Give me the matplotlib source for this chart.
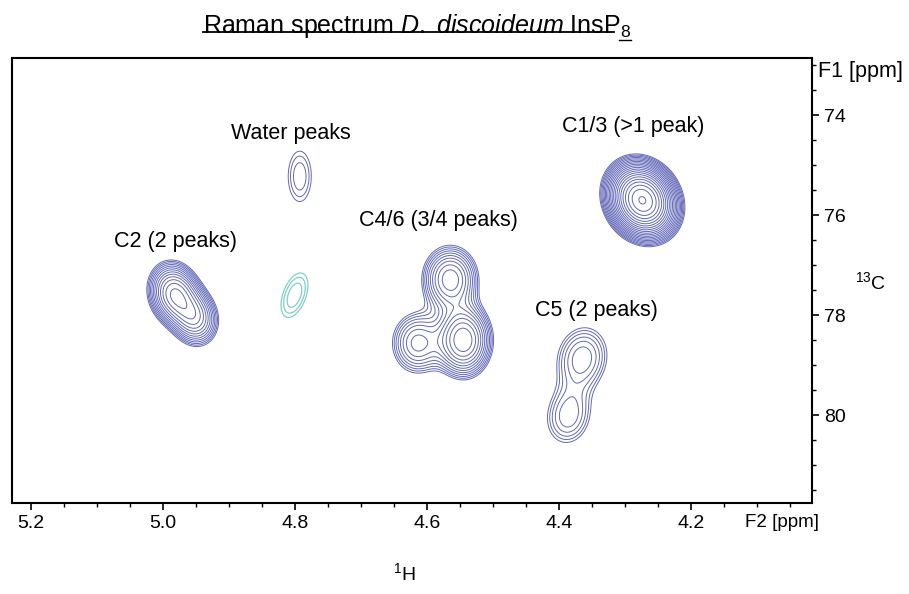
import numpy as np
import matplotlib
matplotlib.use("Agg")
import matplotlib.pyplot as plt
from matplotlib.ticker import MultipleLocator, FormatStrFormatter
from matplotlib.lines import Line2D

plt.rcParams['font.family'] = ['Liberation Sans', 'DejaVu Sans']
plt.rcParams['mathtext.fontset'] = 'custom'
plt.rcParams['mathtext.rm'] = 'Liberation Sans'
plt.rcParams['mathtext.it'] = 'Liberation Sans:italic'

# peak list: 1H shift, 13C shift, widths, height, tilt
peak_h = [4.983, 4.952, 4.793, 4.565, 4.545, 4.615, 4.365, 4.386, 4.274]
peak_c = [77.57, 78.05, 75.22, 77.28, 78.50, 78.56, 78.86, 80.02, 75.70]
sig_h = [0.021, 0.020, 0.018, 0.024, 0.023, 0.024, 0.027, 0.025, 0.025]
sig_c = [0.34, 0.32, 0.52, 0.38, 0.40, 0.38, 0.44, 0.42, 0.36]
amp = [0.36, 0.25, 0.08, 0.25, 0.36, 0.17, 0.13, 0.11, 1.40]
tilt = [-0.12, -0.1, 0.0, 0.0, 0.0, 0.0, 0.1, 0.1, -0.15]

# water peak drawn in the second (cyan) colour
neg_h = [4.801]
neg_c = [77.60]
neg_sig_h = [0.021]
neg_sig_c = [0.46]
neg_amp = [0.08]
neg_tilt = [0.45]

labels = ["Water peaks", "C2 (2 peaks)", "C4/6 (3/4 peaks)", "C5 (2 peaks)", "C1/3 (>1 peak)"]
label_h = [4.806, 4.982, 4.583, 4.344, 4.288]
label_c = [74.36, 76.53, 76.11, 77.90, 74.22]


def surface(X, Y, hs, cs, sh, sc, aa, rr):
    Z = np.zeros_like(X)
    for h0, c0, s1, s2, a, r in zip(hs, cs, sh, sc, aa, rr):
        u = (X - h0) / s1
        v = (Y - c0) / s2
        Z += a * np.exp(-0.5 / (1 - r ** 2) * (u ** 2 - 2 * r * u * v + v ** 2))
    return Z


xg = np.linspace(4.0, 5.25, 800)
yg = np.linspace(72.8, 81.8, 700)
X, Y = np.meshgrid(xg, yg)
Z = surface(X, Y, peak_h, peak_c, sig_h, sig_c, amp, tilt)
Zn = surface(X, Y, neg_h, neg_c, neg_sig_h, neg_sig_c, neg_amp, neg_tilt)

levels = 0.05 * 1.18 ** np.arange(0, 26)

fig = plt.figure(figsize=(9.09, 5.94), dpi=100)
ax = fig.add_axes([0.0132, 0.1532, 0.88, 0.7492])

ax.contour(X, Y, Z, levels=levels, colors="#6369b8", linewidths=0.7)
ax.contour(X, Y, Zn, levels=levels, colors="#7fd0c8", linewidths=0.9)

for t, h, c in zip(labels, label_h, label_c):
    ax.text(h, c, t, ha="center", va="center", fontsize=15.5)

ax.set_xlim(5.229, 4.017)
ax.set_ylim(81.76, 72.85)

ax.yaxis.tick_right()
ax.xaxis.set_major_locator(MultipleLocator(0.2))
ax.xaxis.set_minor_locator(MultipleLocator(0.05))
ax.yaxis.set_major_locator(MultipleLocator(2))
ax.yaxis.set_minor_locator(MultipleLocator(0.5))
ax.xaxis.set_major_formatter(FormatStrFormatter("%.1f"))
ax.tick_params(which="major", length=5, width=1.2, labelsize=14, direction="out")
ax.tick_params(which="minor", length=3, width=1.0, direction="out")
ax.tick_params(axis="y", left=False, right=True, which="both")
for s in ax.spines.values():
    s.set_linewidth(1.5)

fig.text(0.820, 0.121, "F2 [ppm]", fontsize=13.5, ha="left", va="center")
fig.text(0.900, 0.880, "F1 [ppm]", fontsize=15.5, ha="left", va="center")
fig.text(0.958, 0.525, r"$^{13}$C", fontsize=14, ha="center", va="center")
fig.text(0.445, 0.017, r"$^{1}$H", fontsize=14, ha="center", va="bottom")

title = fig.text(0.459, 0.957, r"Raman spectrum $\mathit{D.\ discoideum}$ InsP$_8$",
                 fontsize=18, ha="center", va="center")

fig.canvas.draw()
bb = title.get_window_extent(fig.canvas.get_renderer())
inv = fig.transFigure.inverted()
x0, y0 = inv.transform((bb.x0, bb.y0))
x1, y1 = inv.transform((bb.x1, bb.y0))
fig.add_artist(Line2D([x0, x1 - 0.019], [y0 + 0.013, y0 + 0.013], transform=fig.transFigure,
                      color="black", linewidth=1.3))
fig.add_artist(Line2D([x1 - 0.013, x1], [y0 - 0.001, y0 - 0.001], transform=fig.transFigure,
                      color="black", linewidth=1.0))

fig.savefig("out.png", dpi=100)
